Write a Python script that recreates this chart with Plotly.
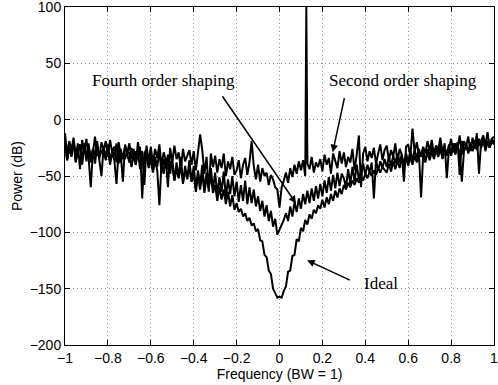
import numpy as np
import plotly.graph_objects as go

# Sampling grid of the spectrum (normalized frequency, BW = 1)
freq = np.round(np.arange(-100, 101) / 100, 2)

# Power (dB), one row per 0.1 of frequency
second_order = [
    -12, -30, -19, -27, -16, -33, -21, -44, -18, -28,
    -17, -34, -60, -29, -15, -31, -33, -20, -27, -19,
    -33, -18, -29, -24, -38, -20, -31, -55, -22, -30,
    -21, -35, -26, -40, -20, -33, -28, -58, -23, -37,
    -24, -39, -26, -34, -22, -41, -29, -36, -60, -25,
    -38, -23, -35, -29, -44, -26, -37, -31, -27, -40,
    -28, -45, -31, -13, -27, -48, -33, -64, -30, -42,
    -32, -47, -35, -43, -30, -50, -37, -44, -33, -49,
    -45, -36, -52, -40, -34, -49, -38, -19, -41, -53,
    -40, -55, -43, -50, -47, -58, -49, -53, -60, -62,
    -78, -60, -54, -47, -56, -43, -51, -40, -48, -37,
    -45, -36, -50, -39, -44, -33, -47, -38, -42, -35,
    -46, -31, -40, -34, -48, -30, -37, -43, -28, -39,
    -29, -42, -33, -38, -26, -45, -31, -14, -60, -30,
    -24, -37, -28, -34, -25, -39, -30, -22, -36, -27,
    -23, -36, -27, -33, -21, -38, -26, -31, -55, -24,
    -22, -33, -8, -29, -20, -31, -31, -24, -30, -19,
    -28, -18, -32, -23, -27, -16, -30, -21, -52, -26,
    -17, -29, -21, -26, -14, -31, -19, -24, -15, -28,
    -16, -26, -12, -48, -19, -14, -23, -11, -25, -17,
    -15,
]

fourth_order = [
    -20, -36, -24, -32, -18, -37, -27, -22, -40, -25,
    -33, -21, -38, -26, -31, -19, -36, -50, -24, -34,
    -22, -37, -27, -33, -21, -39, -26, -35, -23, -32,
    -38, -25, -35, -28, -34, -24, -70, -30, -26, -40,
    -30, -45, -33, -42, -28, -47, -35, -43, -31, -48,
    -34, -54, -38, -51, -33, -57, -41, -53, -36, -55,
    -41, -61, -45, -58, -40, -63, -47, -60, -43, -62,
    -47, -67, -51, -64, -46, -69, -53, -66, -50, -68,
    -55, -73, -58, -72, -54, -75, -60, -74, -62, -77,
    -68, -81, -72, -86, -76, -90, -81, -95, -88, -102,
    -98, -93, -89, -83, -90, -77, -86, -73, -82, -70,
    -79, -66, -75, -63, -74, -61, -72, -59, -70, -57,
    -68, -54, -65, -51, -63, -49, -61, -47, -59, -48,
    -52, -60, -44, -57, -42, -55, -40, -53, -46, -39,
    -49, -40, -47, -38, -70, -36, -45, -37, -43, -35,
    -42, -33, -41, -32, -39, -30, -38, -31, -40, -30,
    -37, -28, -36, -27, -34, -26, -33, -27, -38, -26,
    -33, -24, -32, -23, -30, -22, -35, -25, -31, -22,
    -30, -21, -29, -20, -49, -19, -28, -22, -29, -20,
    -27, -18, -26, -17, -24, -16, -28, -19, -25, -17,
    -20,
]

ideal = [
    -22, -36, -25, -33, -19, -38, -28, -24, -35, -21,
    -37, -24, -33, -27, -39, -23, -34, -28, -26, -36,
    -25, -40, -29, -36, -57, -27, -38, -30, -35, -28,
    -30, -42, -31, -40, -28, -44, -33, -39, -32, -43,
    -35, -47, -36, -45, -76, -38, -48, -34, -44, -37,
    -42, -54, -44, -52, -41, -56, -45, -51, -43, -55,
    -48, -64, -50, -62, -47, -65, -51, -61, -49, -65,
    -58, -72, -60, -71, -62, -75, -64, -77, -67, -80,
    -74, -82, -79, -86, -83, -90, -87, -94, -92, -99,
    -97, -107, -108, -120, -122, -134, -137, -150, -154, -158,
    -157, -158, -152, -148, -135, -134, -121, -120, -106, -108,
    -96, -99, -89, -93, -84, -88, -80, -83, -76, -79,
    -71, -78, -69, -75, -66, -72, -63, -69, -61, -66,
    -58, -62, -56, -60, -54, -58, -52, -56, -50, -54,
    -48, -52, -46, -50, -45, -49, -43, -47, -42, -45,
    -47, -39, -46, -37, -44, -36, -43, -35, -41, -34,
    -41, -33, -40, -32, -38, -30, -69, -31, -37, -29,
    -36, -28, -35, -27, -33, -26, -34, -25, -32, -27,
    -32, -24, -31, -23, -29, -55, -28, -22, -30, -23,
    -28, -20, -27, -19, -25, -18, -26, -20, -24, -19,
    -22,
]

# Input tone
tone_freq = 0.125
tone_level = 100

x_ticks = [-1, -0.8, -0.6, -0.4, -0.2, 0, 0.2, 0.4, 0.6, 0.8, 1]
y_ticks = [-200, -150, -100, -50, 0, 50, 100]

# second-order spectrum contains the tone
sx = np.append(freq, tone_freq)
sy = np.append(np.array(second_order, dtype=float), tone_level)
order = np.argsort(sx, kind="stable")
sx, sy = sx[order], sy[order]

fig = go.Figure()
line = dict(color="black", width=2)
fig.add_trace(go.Scatter(x=freq, y=ideal, mode="lines", line=line, name="Ideal"))
fig.add_trace(go.Scatter(x=freq, y=fourth_order, mode="lines", line=line, name="Fourth order shaping"))
fig.add_trace(go.Scatter(x=sx, y=sy, mode="lines", line=line, name="Second order shaping"))

serif = dict(family="Liberation Serif, Times New Roman, serif", size=17, color="black")

annotations = [
    # labels
    dict(x=-0.543, y=34.5, text="Fourth order shaping", showarrow=False, font=serif),
    dict(x=0.578, y=34.5, text="Second order shaping", showarrow=False, font=serif),
    dict(x=0.473, y=-145.6, text="Ideal", showarrow=False, font=serif),
    # arrows
    dict(x=0.077, y=-74.3, ax=-0.271, ay=22.1, axref="x", ayref="y", text="",
         showarrow=True, arrowhead=2, arrowsize=1, arrowwidth=1.5, arrowcolor="black", standoff=0),
    dict(x=0.248, y=-28.9, ax=0.304, ay=20.4, axref="x", ayref="y", text="",
         showarrow=True, arrowhead=2, arrowsize=1, arrowwidth=1.5, arrowcolor="black", standoff=0),
    dict(x=0.129, y=-124.8, ax=0.335, ay=-143.0, axref="x", ayref="y", text="",
         showarrow=True, arrowhead=2, arrowsize=1, arrowwidth=1.5, arrowcolor="black", standoff=0),
]

axis_common = dict(
    showline=True, linecolor="black", linewidth=1, mirror="ticks",
    ticks="inside", ticklen=5, tickcolor="black", tickwidth=1,
    showgrid=True, gridcolor="#8f8f8f", griddash="1px,3px", gridwidth=1,
    zeroline=False, automargin=False, ticklabeloverflow="allow",
    tickfont=dict(family="Liberation Sans, Arial, sans-serif", size=14, color="black"),
)

fig.update_layout(
    width=498, height=385,
    margin=dict(l=65, r=4, t=7, b=40),
    paper_bgcolor="white", plot_bgcolor="white",
    showlegend=False,
    annotations=annotations,
    xaxis=dict(range=[-1, 1], tickvals=x_ticks,
               title=dict(text="Frequency (BW = 1)", standoff=0,
                          font=dict(family="Liberation Sans, Arial, sans-serif", size=14, color="black")),
               **axis_common),
    yaxis=dict(range=[-200, 100], tickvals=y_ticks,
               title=dict(text="Power (dB)", standoff=3,
                          font=dict(family="Liberation Sans, Arial, sans-serif", size=14, color="black")),
               **axis_common),
)

fig.write_html("out.html", config={"displayModeBar": False},
               post_script="document.body.style.margin='0';document.body.style.padding='0';")
